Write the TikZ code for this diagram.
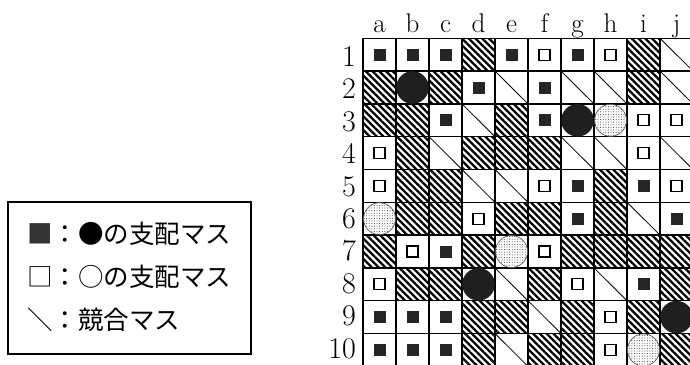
\documentclass[tikz,border=0pt]{standalone}
\usepackage{fontspec}
\newfontfamily\jp{Noto Sans CJK JP}
\usetikzlibrary{patterns,patterns.meta}
\newcommand\griddata{{S,S,S,H,S,O,S,O,H,D},{H,B,H,S,D,S,D,D,H,D},{H,H,S,D,H,S,B,W,O,O},{O,H,D,H,H,H,D,D,O,D},{O,H,H,D,D,O,S,H,S,O},{W,H,H,O,H,H,S,H,D,S},{H,O,S,H,W,O,H,H,H,H},{O,H,H,B,D,H,O,D,S,H},{S,S,S,H,H,D,H,O,H,B},{S,S,S,H,D,H,H,O,W,H}}
\begin{document}
\begin{tikzpicture}[x=1pt,y=-1pt,
  gridline/.style={line width=1.3pt, black},
  hatchcell/.style={pattern={Lines[angle=-45,distance=4.8pt,line width=2.3pt]}, pattern color=black},
  diagline/.style={line width=0.8pt, black},
  fsq/.style={fill=black!85},
  osq/.style={draw=black, line width=1.2pt, fill=white},
  bcirc/.style={fill=black!88},
  wcirc/.style={draw=black!70, line width=0.6pt},
  lbl/.style={font=\fontsize{27}{27}\selectfont, inner sep=0pt, anchor=base},
  num/.style={font=\fontsize{30}{30}\selectfont, inner sep=0pt, anchor=base east},
  leg/.style={font=\jp\fontsize{25.5}{25.5}\selectfont, inner sep=0pt, anchor=base west},
  legbox/.style={draw, line width=1.3pt, minimum width=243pt, minimum height=152pt, inner sep=0pt}]
\useasboundingbox (0,0) rectangle (690,364);
\clip (0,0) rectangle (690,364);
\def\CW{33}\def\CH{32.8}\def\GX{363}\def\GY{38.3}
% pass 1: cell contents
\def\GCS{\fill[fsq] (\xa+10.5,\ya+10.4) rectangle ++(12,12);}
\def\GCO{\draw[osq] (\xa+11,\ya+10.9) rectangle ++(11,11);}
\def\GCH{\fill[hatchcell] (\xa,\ya) rectangle ++(\CW,\CH);}
\def\GCD{\draw[diagline] (\xa,\ya) -- ++(\CW,\CH);}
\def\GCB{}\def\GCW{}
\foreach \rowdata [count=\r] in \griddata {
  \foreach \t [count=\c] in \rowdata {
    \pgfmathsetmacro\xa{\GX+\CW*(\c-1)}
    \pgfmathsetmacro\ya{\GY+\CH*(\r-1)}
    \csname GC\t\endcsname
  }
}
% grid lines
\foreach \i in {0,...,10} {
  \draw[gridline] (\GX+\CW*\i,\GY) -- (\GX+\CW*\i,\GY+\CH*10);
  \draw[gridline] (\GX,\GY+\CH*\i) -- (\GX+\CW*10,\GY+\CH*\i);
}
% pass 2: circles
\def\GCS{}\def\GCO{}\def\GCH{}\def\GCD{}
\def\GCB{\fill[bcirc] (\xa+\CW/2,\ya+\CH/2) circle[radius=16.3];}
\def\GCW{\fill[white] (\xa+\CW/2,\ya+\CH/2) circle[radius=16];
  \fill[pattern={Dots[distance=2.6pt,radius=0.5pt]}, pattern color=black!80] (\xa+\CW/2,\ya+\CH/2) circle[radius=16];
  \draw[wcirc] (\xa+\CW/2,\ya+\CH/2) circle[radius=16];}
\foreach \rowdata [count=\r] in \griddata {
  \foreach \t [count=\c] in \rowdata {
    \pgfmathsetmacro\xa{\GX+\CW*(\c-1)}
    \pgfmathsetmacro\ya{\GY+\CH*(\r-1)}
    \csname GC\t\endcsname
  }
}
% labels
\foreach \l [count=\c] in {a,b,c,d,e,f,g,h,i,j}
  \node[lbl] (col\l) at (\GX+\CW*\c-\CW/2, 32) {\l};
\foreach \n in {1,...,10}
  \node[num] (row\n) at (356, 56.5+32.4*\n-32.4+10) {\n};
% legend
\node[legbox] (legend) at (129.5,278) {};
\node[leg] (leg1) at (27,243.5) {{\color{black!80}■}：●の支配マス};
\node[leg] (leg2) at (27,286.5) {□：○の支配マス};
\node[leg] (leg3) at (27,329.5) {＼：競合マス};
\end{tikzpicture}
\end{document}
